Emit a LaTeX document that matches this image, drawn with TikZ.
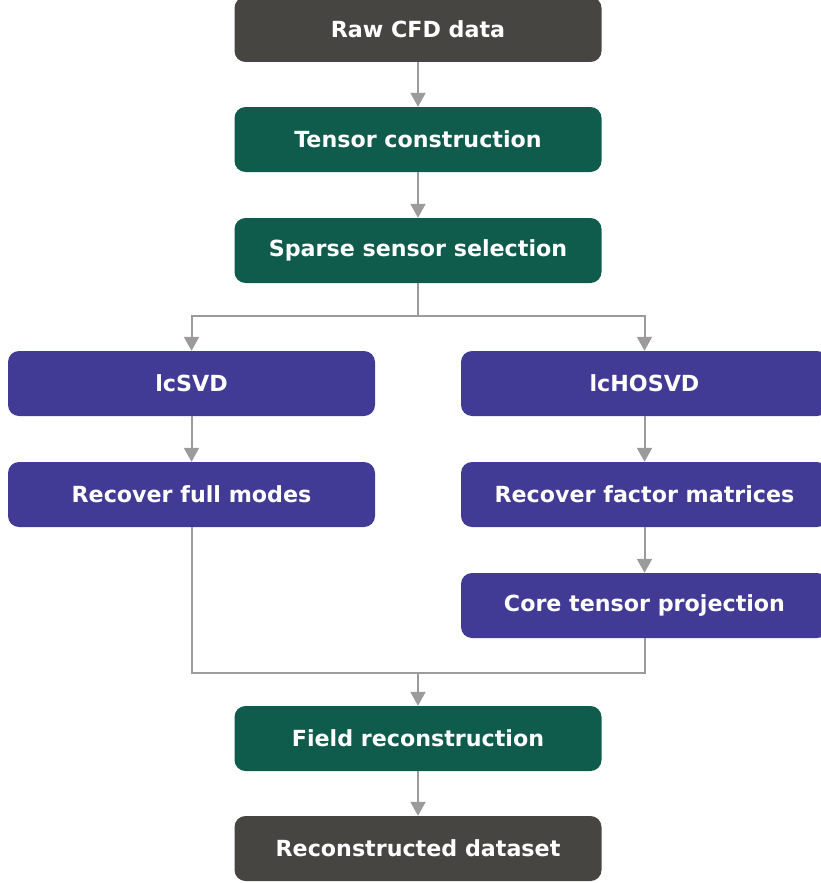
\documentclass[tikz,border=0pt]{standalone}
\usepackage{fontspec}
\setmainfont{DejaVu Sans}
\usetikzlibrary{arrows.meta}
\definecolor{cdark}{HTML}{474541}
\definecolor{cgreen}{HTML}{0F5C4D}
\definecolor{cpurple}{HTML}{423B95}
\definecolor{cline}{HTML}{9B9B9B}
\begin{document}
\begin{tikzpicture}[x=1pt,y=-1pt,
  box/.style={rectangle,rounded corners=11pt,minimum width=367pt,minimum height=65pt,inner sep=0pt,text=white,font=\fontsize{22.2}{26}\selectfont\bfseries},
  darkbox/.style={box,fill=cdark},
  greenbox/.style={box,fill=cgreen},
  purplebox/.style={box,fill=cpurple},
  conn/.style={draw=cline,line width=2pt},
  arr/.style={conn,-{Triangle[width=15pt,length=14pt]}}]
\useasboundingbox (0,0) rectangle (821,883);
\clip (0,0) rectangle (821,883);
\node[darkbox] (raw) at (418,29.5) {Raw CFD data};
\node[greenbox] (tensor) at (418,139.5) {Tensor construction};
\node[greenbox] (sparse) at (418,250.5) {Sparse sensor selection};
\node[purplebox] (lcsvd) at (191.5,383.5) {lcSVD};
\node[purplebox] (lchosvd) at (644.5,383.5) {lcHOSVD};
\node[purplebox] (modes) at (191.5,494.5) {Recover full modes};
\node[purplebox] (factor) at (644.5,494.5) {Recover factor matrices};
\node[purplebox] (core) at (644.5,605.5) {Core tensor projection};
\node[greenbox] (field) at (418,738.5) {Field reconstruction};
\node[darkbox] (recon) at (418,848.5) {Reconstructed dataset};
\coordinate (split) at (418,316);
\coordinate (merge) at (418,673);
\draw[arr] (raw) -- (tensor);
\draw[arr] (tensor) -- (sparse);
\draw[conn] (sparse.south) -- (split);
\draw[arr] (split) -| (lcsvd.north);
\draw[arr] (split) -| (lchosvd.north);
\draw[arr] (lcsvd) -- (modes);
\draw[arr] (lchosvd) -- (factor);
\draw[arr] (factor) -- (core);
\draw[conn] (modes.south) |- (merge);
\draw[conn] (core.south) |- (merge);
\draw[arr] (merge) -- (field.north);
\draw[arr] (field) -- (recon);
\end{tikzpicture}
\end{document}
